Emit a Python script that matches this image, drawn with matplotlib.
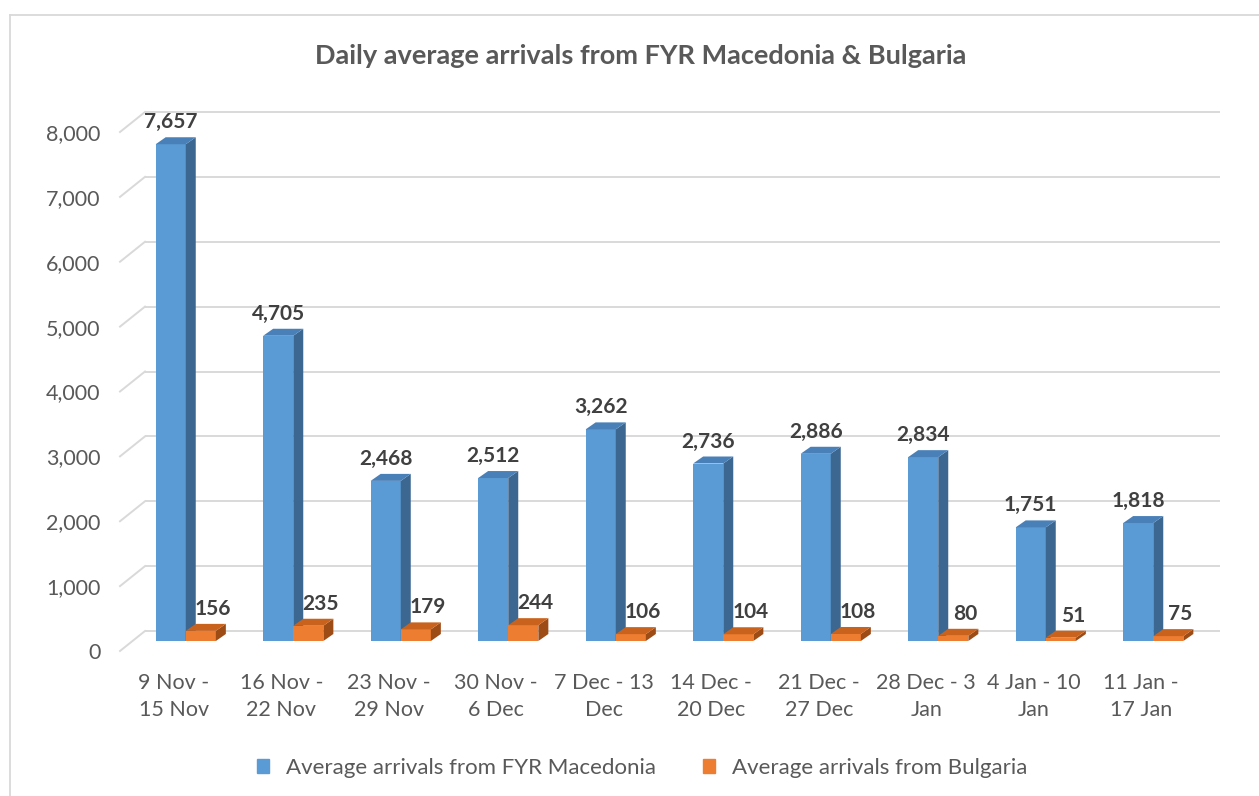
import matplotlib
matplotlib.use("Agg")
import matplotlib.pyplot as plt
from matplotlib.patches import Polygon, Patch
from matplotlib.lines import Line2D
from matplotlib.transforms import offset_copy, IdentityTransform

# -------------------------
# Datos
# -------------------------
weeks = ["9 Nov -\n15 Nov", "16 Nov -\n22 Nov", "23 Nov -\n29 Nov", "30 Nov -\n6 Dec",
         "7 Dec - 13\nDec", "14 Dec -\n20 Dec", "21 Dec -\n27 Dec", "28 Dec - 3\nJan",
         "4 Jan - 10\nJan", "11 Jan -\n17 Jan"]
macedonia = [7657, 4705, 2468, 2512, 3262, 2736, 2886, 2834, 1751, 1818]
bulgaria = [156, 235, 179, 244, 106, 104, 108, 80, 51, 75]
y_ticks = [0, 1000, 2000, 3000, 4000, 5000, 6000, 7000, 8000]
series_names = ["Average arrivals from FYR Macedonia", "Average arrivals from Bulgaria"]
title = "Daily average arrivals from FYR Macedonia & Bulgaria"

# -------------------------
# Estilo
# -------------------------
plt.rcParams['font.family'] = ['Lato', 'DejaVu Sans']
GRID = "#D9D9D9"
TEXT = "#595959"
LABEL = "#404040"
BLUE = ("#5B9BD5", "#4A80B8", "#3B6790")    # frente, arriba, lado
ORANGE = ("#ED7D31", "#C9621C", "#9E4C16")

W, H = 1259, 796
fig = plt.figure(figsize=(W / 100, H / 100), dpi=100)
ax = fig.add_axes([120 / W, 145 / H, 1075 / W, 519 / H])
ax.set_xlim(-0.5, 9.5)
ax.set_ylim(0, 8000)
ax.set_facecolor("none")
for s in ax.spines.values():
    s.set_visible(False)

ax.set_xticks(range(len(weeks)))
ax.set_xticklabels(weeks, fontsize=15.5, color=TEXT, linespacing=1.45)
ax.set_yticks(y_ticks)
ax.set_yticklabels([f"{v:,}" for v in y_ticks], fontsize=15.5, color=TEXT)
ax.tick_params(axis="y", length=0, pad=14)
ax.tick_params(axis="x", length=0, pad=16)

# desplazamientos en pixeles (pseudo 3D)
BACK = (25, 20)
FRONT = (12, 10)
DEPTH = (10, 7)

# -------------------------
# Pared del fondo: lineas de cuadricula
# -------------------------
back_t = offset_copy(ax.get_yaxis_transform(), fig=fig, x=BACK[0], y=BACK[1], units="dots")
ax.hlines(y_ticks, 0, 1, transform=back_t, color=GRID, lw=1.4, clip_on=False, zorder=1)
for v in y_ticks:
    x0, y0 = ax.get_yaxis_transform().transform((0, v))
    ax.add_line(Line2D([x0, x0 + BACK[0]], [y0, y0 + BACK[1]], transform=IdentityTransform(),
                       color=GRID, lw=1.4, clip_on=False, zorder=1))

# -------------------------
# Barras
# -------------------------
front_t = offset_copy(ax.transData, fig=fig, x=FRONT[0], y=FRONT[1], units="dots")
bw = 0.28


def draw_series(xs, values, colors, label_dx):
    ax.bar(xs, values, width=bw, align="edge", color=colors[0], lw=0,
           transform=front_t, zorder=3, clip_on=False)
    for x, v in zip(xs, values):
        (xl, yb) = front_t.transform((x, 0))
        (xr, yt) = front_t.transform((x + bw, v))
        dx, dy = DEPTH
        side = [(xr, yb), (xr, yt), (xr + dx, yt + dy), (xr + dx, yb + dy)]
        top = [(xl, yt), (xr, yt), (xr + dx, yt + dy), (xl + dx, yt + dy)]
        ax.add_patch(Polygon(side, closed=True, transform=IdentityTransform(),
                             fc=colors[2], lw=0, zorder=3, clip_on=False))
        ax.add_patch(Polygon(top, closed=True, transform=IdentityTransform(),
                             fc=colors[1], lw=0, zorder=3, clip_on=False))
        ax.annotate(f"{v:,}", xy=(x + bw / 2, v), xycoords=front_t,
                    xytext=(label_dx * 0.72, 22 * 0.72), textcoords="offset points",
                    ha="center", va="center", fontsize=15, fontweight="bold",
                    color=LABEL, zorder=5, annotation_clip=False)


pos = list(range(len(weeks)))
draw_series([p - bw for p in pos], macedonia, BLUE, 0)
draw_series(pos, bulgaria, ORANGE, 12)

# -------------------------
# Titulo, leyenda y borde
# -------------------------
fig.text(641 / W, 1 - 56 / H, title, ha="center", va="center",
         fontsize=19.5, fontweight="bold", color=TEXT)

handles = [Patch(color=BLUE[0]), Patch(color=ORANGE[0])]
fig.legend(handles, series_names, loc="center", bbox_to_anchor=(642 / W, 1 - 768 / H),
           ncol=2, frameon=False, fontsize=16, labelcolor=TEXT,
           handlelength=0.55, handleheight=0.6, handletextpad=0.75, columnspacing=2.1)

fig.add_artist(Line2D([10 / W, 1], [1 - 15 / H, 1 - 15 / H], transform=fig.transFigure,
                      color=GRID, lw=1.3))
fig.add_artist(Line2D([10 / W, 10 / W], [0, 1 - 15 / H], transform=fig.transFigure,
                      color=GRID, lw=1.3))

fig.savefig("out.png", dpi=100)
